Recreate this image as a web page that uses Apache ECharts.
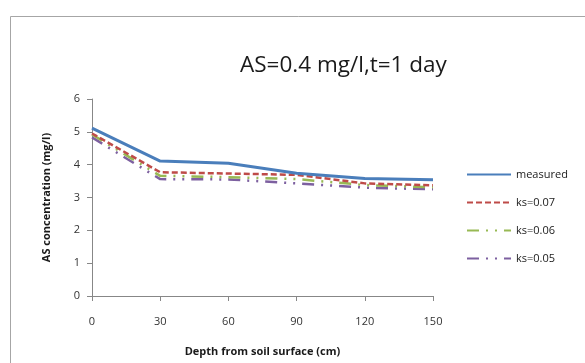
<!DOCTYPE html>
<html><head><meta charset="utf-8">
<script src="https://cdn.jsdelivr.net/npm/echarts@6/dist/echarts.min.js"></script>
<style>html,body{margin:0;padding:0;background:#fff}#c{width:585px;height:363px}</style>
</head><body><div id="c"></div>
<script>
const depths = [0, 30, 60, 90, 120, 150];
const measured = [5.11, 4.11, 4.04, 3.74, 3.58, 3.54];
const ks007 = [4.95, 3.77, 3.73, 3.69, 3.43, 3.37];
const ks006 = [4.92, 3.66, 3.62, 3.56, 3.38, 3.31];
const ks005 = [4.83, 3.56, 3.55, 3.43, 3.30, 3.25];
const seriesNames = ['measured', 'ks=0.07', 'ks=0.06', 'ks=0.05'];
const xTicks = [0, 30, 60, 90, 120, 150];
const yTicks = [0, 1, 2, 3, 4, 5, 6];

const chart = echarts.init(document.getElementById('c'), null, {renderer: 'canvas'});
const font = "'Open Sans', 'DejaVu Sans', sans-serif";
const pair = arr => depths.map((d, i) => [d, arr[i]]);
const styles = [
  {color: '#4a7ebb', width: 3, type: 'solid'},
  {color: '#be4b48', width: 2.5, type: [6, 3]},
  {color: '#98b954', width: 2.5, type: [12, 7, 2, 7, 2, 7]},
  {color: '#7d60a0', width: 2.5, type: [12, 7, 2, 7, 2, 7]}
];
const datas = [measured, ks007, ks006, ks005];
chart.setOption({
  animation: false,
  textStyle: {fontFamily: font},
  graphic: [{type: 'rect', shape: {x: 10.5, y: 16.5, width: 700, height: 500}, style: {fill: 'none', stroke: '#a6a6a6', lineWidth: 1}}],
  title: {text: 'AS=0.4 mg/l,t=1 day', left: 235, top: 49,
    textStyle: {fontFamily: font, fontSize: 22.5, fontWeight: 'normal', color: '#1a1a1a'}},
  grid: {left: 92, right: 152, top: 99, bottom: 67},
  legend: {orient: 'vertical', left: 461, top: 164, itemWidth: 44, itemHeight: 12, itemGap: 17,
    itemStyle: {opacity: 0},
    textStyle: {fontFamily: font, fontSize: 11, color: '#1a1a1a'},
    data: seriesNames},
  xAxis: {type: 'value', min: xTicks[0], max: xTicks[xTicks.length - 1], interval: 30,
    name: 'Depth from soil surface (cm)', nameLocation: 'middle', nameGap: 50,
    nameTextStyle: {fontFamily: font, fontSize: 11, fontWeight: 'bold', color: '#1a1a1a'},
    axisLine: {lineStyle: {color: '#878787'}}, axisTick: {show: true, length: 5, lineStyle: {color: '#878787'}},
    axisLabel: {margin: 20, fontSize: 11, color: '#333'}, splitLine: {show: false}},
  yAxis: {type: 'value', min: yTicks[0], max: yTicks[yTicks.length - 1], interval: 1,
    name: 'AS concentration (mg/l)', nameLocation: 'middle', nameGap: 40, nameRotate: 90,
    nameTextStyle: {fontFamily: font, fontSize: 11, fontWeight: 'bold', color: '#1a1a1a'},
    axisLine: {show: true, lineStyle: {color: '#878787'}}, axisTick: {show: true, length: 5, lineStyle: {color: '#878787'}},
    axisLabel: {margin: 12, fontSize: 11, color: '#333'}, splitLine: {show: false}},
  series: seriesNames.map((n, i) => ({
    name: n, type: 'line', data: pair(datas[i]), symbol: 'none', showSymbol: false,
    color: styles[i].color,
    lineStyle: {color: styles[i].color, width: styles[i].width, type: styles[i].type},
    z: 10 - i
  }))
});
</script></body></html>
